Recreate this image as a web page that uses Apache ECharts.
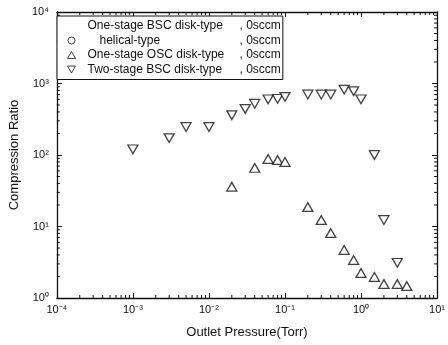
<!DOCTYPE html>
<html>
<head>
<meta charset="utf-8">
<script src="https://cdn.jsdelivr.net/npm/echarts@6/dist/echarts.min.js"></script>
<style>
html, body { margin: 0; padding: 0; background: #fff; }
#chart { width: 448px; height: 345px; }
</style>
</head>
<body>
<div id="chart"></div>
<script>
// outlet pressure (Torr) and compression ratio
var oscPressure = [0.02, 0.04, 0.06, 0.08, 0.1, 0.2, 0.3, 0.4, 0.6, 0.8, 1.0, 1.5, 2, 3, 4];
var oscRatio    = [36, 66, 88, 85, 80, 18.7, 12.3, 8.1, 4.7, 3.4, 2.24, 1.97, 1.57, 1.57, 1.47];

var twoPressure = [0.001, 0.003, 0.005, 0.01, 0.02, 0.03, 0.04, 0.06, 0.08, 0.1, 0.2, 0.3, 0.4, 0.6, 0.8, 1.0, 1.5, 2, 3];
var twoRatio    = [120, 172, 246, 246, 360, 440, 520, 600, 610, 650, 700, 700, 700, 820, 780, 600, 100, 12.3, 3.1];

var seriesNames = ['One-stage BSC disk-type', 'helical-type', 'One-stage OSC disk-type', 'Two-stage BSC disk-type'];
var flowLabel = ', 0sccm';

var xTickLabels = { '-4': '10⁻⁴', '-3': '10⁻³', '-2': '10⁻²', '-1': '10⁻¹', '0': '10⁰', '1': '10¹' };
var yTickLabels = { '0': '10⁰', '1': '10¹', '2': '10²', '3': '10³', '4': '10⁴' };

// log minor tick positions (2..9 x 10^k)
var xDecades = [-4, -3, -2, -1, 0];
var yDecades = [0, 1, 2, 3];

function pairs(xs, ys) {
  var out = [];
  for (var i = 0; i < xs.length; ++i) out.push([xs[i], ys[i]]);
  return out;
}
function expOf(v) { return String(Math.round(Math.log10(v))); }
function minors(decades) {
  var out = [];
  decades.forEach(function (d) {
    for (var k = 2; k <= 9; ++k) out.push(k * Math.pow(10, d));
  });
  return out;
}

var chart = echarts.init(document.getElementById('chart'));
var font = 'Liberation Sans, Arial, sans-serif';
var upTri = 'path://M5,0 L10,8.7 L0,8.7 Z';
var downTri = 'path://M0,0 L10,0 L5,8.7 Z';
var markStyle = { color: '#fff', borderColor: '#111', borderWidth: 1.3 };

var xMinorData = minors(xDecades).map(function (v) { return [v, 1]; });
var yMinorData = minors(yDecades).map(function (v) { return [1e-4, v]; });

function minorTickX(params, api) {
  var cs = params.coordSys;
  var x = api.coord([api.value(0), 1])[0];
  var bottom = cs.y + cs.height, top = cs.y;
  var style = { stroke: '#111', lineWidth: 1 };
  return {
    type: 'group',
    children: [
      { type: 'line', shape: { x1: x, y1: bottom, x2: x, y2: bottom - 3 }, style: style },
      { type: 'line', shape: { x1: x, y1: top, x2: x, y2: top + 3 }, style: style }
    ]
  };
}
function minorTickY(params, api) {
  var cs = params.coordSys;
  var y = api.coord([1e-4, api.value(1)])[1];
  var left = cs.x, right = cs.x + cs.width;
  var style = { stroke: '#111', lineWidth: 1 };
  return {
    type: 'group',
    children: [
      { type: 'line', shape: { x1: left, y1: y, x2: left + 3, y2: y }, style: style },
      { type: 'line', shape: { x1: right, y1: y, x2: right - 3, y2: y }, style: style }
    ]
  };
}

var option = {
  backgroundColor: '#fff',
  animation: false,
  grid: { left: 53, right: 8, top: 12, bottom: 47 },
  legend: {
    orient: 'vertical',
    left: 57,
    top: 16,
    padding: [4, 2, 4, 10],
    itemGap: 2.5,
    itemWidth: 8,
    itemHeight: 7,
    borderColor: '#111',
    borderWidth: 1,
    backgroundColor: '#fff',
    selectedMode: false,
    data: seriesNames,
    itemStyle: { borderWidth: 1 },
    formatter: function (name) {
      if (name === seriesNames[1]) return '{h|' + name + '}{c|' + flowLabel + '}';
      return '{n|' + name + '}{c|' + flowLabel + '}';
    },
    textStyle: {
      fontFamily: font,
      fontSize: 12,
      color: '#111',
      rich: {
        n: { width: 152, padding: [0, 0, 0, 7], fontSize: 12, lineHeight: 13, fontFamily: font, color: '#111' },
        h: { width: 140, padding: [0, 0, 0, 19], fontSize: 12, lineHeight: 13, fontFamily: font, color: '#111' },
        c: { fontSize: 12, lineHeight: 13, fontFamily: font, color: '#111' }
      }
    }
  },
  xAxis: [{
    type: 'log',
    logBase: 10,
    min: 1e-4,
    max: 10,
    name: 'Outlet Pressure(Torr)',
    nameLocation: 'middle',
    nameGap: 28,
    nameTextStyle: { fontFamily: font, fontSize: 13, color: '#111' },
    axisLine: { lineStyle: { color: '#111', width: 1.3 } },
    axisTick: { inside: true, length: 5, lineStyle: { color: '#111' } },
    splitLine: { show: false },
    axisLabel: {
      fontFamily: font, fontSize: 11, color: '#111', margin: 6,
      formatter: function (v) { return xTickLabels[expOf(v)] || ''; }
    }
  }, {
    type: 'log',
    logBase: 10,
    min: 1e-4,
    max: 10,
    position: 'top',
    axisLine: { lineStyle: { color: '#111', width: 1.3 } },
    axisTick: { inside: true, length: 5, lineStyle: { color: '#111' } },
    axisLabel: { show: false },
    splitLine: { show: false }
  }],
  yAxis: [{
    type: 'log',
    logBase: 10,
    min: 1,
    max: 1e4,
    name: 'Compression Ratio',
    nameLocation: 'middle',
    nameGap: 27,
    nameTextStyle: { fontFamily: font, fontSize: 13, color: '#111' },
    axisLine: { show: true, lineStyle: { color: '#111', width: 1.3 } },
    axisTick: { show: true, inside: true, length: 5, lineStyle: { color: '#111' } },
    splitLine: { show: false },
    axisLabel: {
      fontFamily: font, fontSize: 11, color: '#111', margin: 8,
      formatter: function (v) { return yTickLabels[expOf(v)] || ''; }
    }
  }, {
    type: 'log',
    logBase: 10,
    min: 1,
    max: 1e4,
    position: 'right',
    axisLine: { show: true, lineStyle: { color: '#111', width: 1.3 } },
    axisTick: { show: true, inside: true, length: 5, lineStyle: { color: '#111' } },
    axisLabel: { show: false },
    splitLine: { show: false }
  }],
  series: [{
    type: 'custom',
    renderItem: minorTickX,
    data: xMinorData,
    silent: true,
    z: 1
  }, {
    type: 'custom',
    renderItem: minorTickY,
    data: yMinorData,
    silent: true,
    z: 1
  }, {
    name: seriesNames[0],
    type: 'scatter',
    symbol: 'rect',
    itemStyle: { color: 'rgba(0,0,0,0)', borderWidth: 0 },
    data: []
  }, {
    name: seriesNames[1],
    type: 'scatter',
    symbol: 'circle',
    symbolSize: 7,
    itemStyle: markStyle,
    data: []
  }, {
    name: seriesNames[2],
    type: 'scatter',
    symbol: upTri,
    symbolSize: [10, 8.7],
    itemStyle: markStyle,
    z: 3,
    data: pairs(oscPressure, oscRatio)
  }, {
    name: seriesNames[3],
    type: 'scatter',
    symbol: downTri,
    symbolSize: [10, 8.7],
    itemStyle: markStyle,
    z: 3,
    data: pairs(twoPressure, twoRatio)
  }]
};

chart.setOption(option);
</script>
</body>
</html>
